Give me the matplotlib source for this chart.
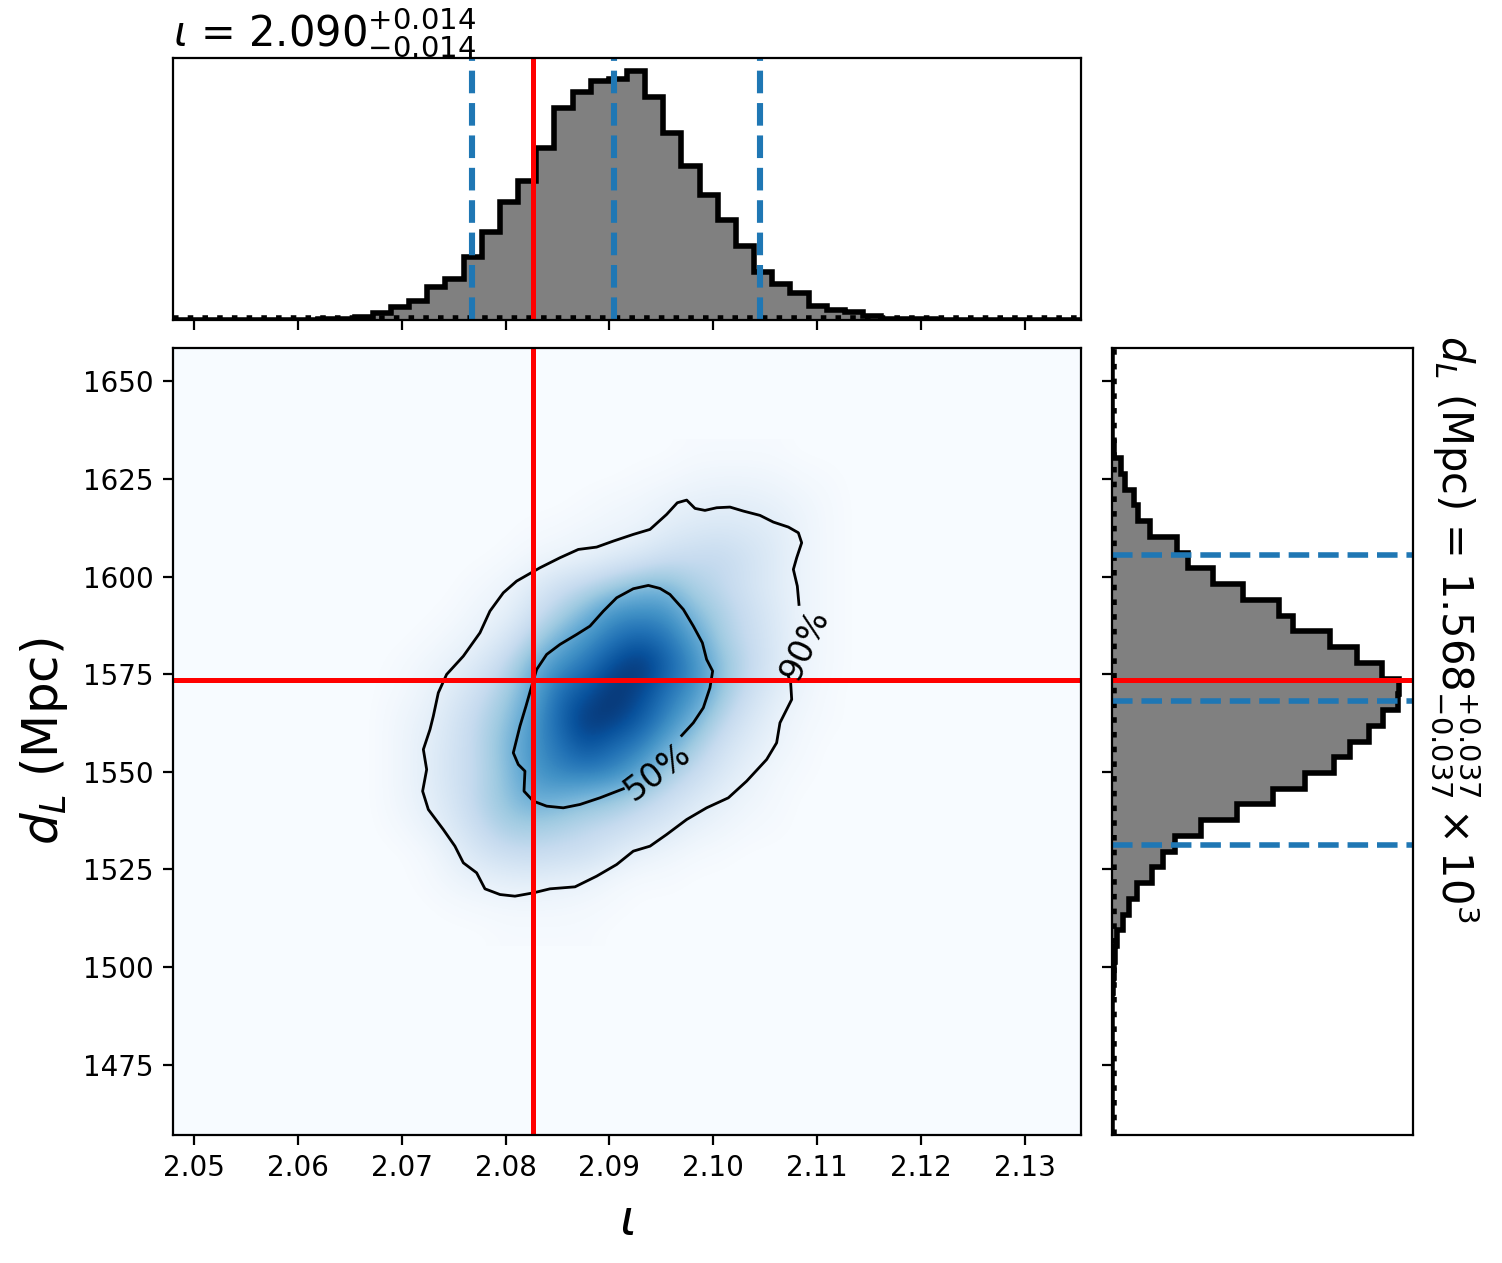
import numpy as np
import matplotlib
matplotlib.use("Agg")
import matplotlib.pyplot as plt

X_LIM = (2.04798, 2.13539)
Y_LIM = (1456.95, 1658.55)
X_TICKS = [2.05, 2.06, 2.07, 2.08, 2.09, 2.10, 2.11, 2.12, 2.13]
Y_TICKS = [1475, 1500, 1525, 1550, 1575, 1600, 1625, 1650]

TRUE_IOTA = 2.0826
TRUE_DL = 1573.5
IOTA_QUANTILES = [2.0768, 2.0904, 2.1045]
DL_QUANTILES = [1531.2, 1568.2, 1605.5]

# relative bin heights, 50 bins, low to high
iota_counts = [0, 0, 0, 0, 0, 0, 0, 0.3, 0.6, 1.2,
               3, 6.7, 12.7, 19.3, 33.3, 40.7, 62.7, 88.3, 118.3, 139.3,
               172.3, 211.7, 228.3, 239.3, 241.3, 249.3, 223.3, 187.3, 154, 125,
               100, 74, 48.3, 36, 27.3, 14, 10, 8, 4, 1.5,
               1.5, 1, 0.5, 0.3, 0.2, 0, 0, 0, 0, 0]
# relative bin heights, 50 bins, from the highest distance bin down
dl_counts = [0, 0, 0, 0, 0, 0.3, 2, 8.7, 13, 22,
             26.3, 38, 65.3, 76.3, 101.3, 130.7, 167.3, 181.3, 218, 244.7,
             269.7, 287, 285.7, 271.3, 257.3, 238, 222.3, 193, 160.7, 124.7,
             88.7, 63, 51.3, 39.7, 25.3, 17, 10.7, 4.7, 3, 2,
             0.7, 0.3, 0, 0, 0, 0, 0, 0, 0, 0]

# density cell centres and colour levels
grid_iota = [2.06726, 2.06983, 2.07240, 2.07496, 2.07753, 2.08010, 2.08267, 2.08523, 2.08780, 2.09037,
             2.09294, 2.09550, 2.09807, 2.10064, 2.10321, 2.10577, 2.10834, 2.11091, 2.11347]
grid_dl = [1631.72, 1624.89, 1618.06, 1611.22, 1604.39, 1597.56, 1590.73, 1583.89, 1577.06, 1570.23,
           1563.40, 1556.56, 1549.73, 1542.90, 1536.07, 1529.23, 1522.40, 1515.57, 1508.74]
density = [
 [0, 0, 0, 0, 0, 0, 0, 0, 0, 0, 0, 0, 1, 1, 1, 1, 0, 0, 0],
 [0, 0, 0, 0, 0, 0, 0, 0, 0, 0, 1, 2, 4, 5, 5, 4, 2, 1, 0],
 [0, 0, 0, 0, 0, 0, 0, 0, 1, 3, 4, 7, 9, 10, 10, 8, 5, 2, 0],
 [0, 0, 0, 0, 0, 0, 1, 2, 4, 5, 7, 12, 15, 17, 15, 12, 6, 2, 0],
 [0, 0, 0, 0, 0, 1, 4, 6, 8, 13, 17, 23, 25, 26, 20, 13, 6, 2, 0],
 [0, 0, 0, 0, 2, 5, 12, 21, 28, 36, 44, 45, 33, 27, 19, 12, 6, 2, 0],
 [0, 0, 0, 1, 5, 8, 20, 33, 47, 62, 64, 62, 44, 33, 23, 14, 6, 2, 0],
 [0, 0, 1, 4, 8, 16, 33, 49, 62, 74, 82, 74, 57, 36, 25, 15, 6, 2, 0],
 [0, 1, 4, 8, 15, 28, 49, 64, 74, 90, 100, 82, 65, 43, 28, 15, 6, 2, 0],
 [0, 2, 6, 13, 23, 36, 54, 77, 87, 100, 92, 74, 62, 40, 23, 12, 5, 1, 0],
 [0, 4, 8, 17, 28, 41, 60, 80, 98, 96, 84, 67, 49, 30, 17, 8, 3, 1, 0],
 [0, 4, 10, 18, 29, 45, 62, 75, 88, 78, 70, 52, 36, 21, 12, 6, 2, 0, 0],
 [0, 4, 10, 19, 28, 43, 60, 68, 70, 67, 54, 36, 25, 15, 8, 3, 1, 0, 0],
 [0, 4, 9, 17, 30, 41, 52, 49, 44, 39, 31, 23, 15, 9, 5, 2, 0, 0, 0],
 [0, 2, 7, 14, 25, 35, 36, 33, 28, 25, 19, 14, 8, 5, 2, 1, 0, 0, 0],
 [0, 0, 2, 9, 17, 23, 25, 23, 21, 14, 8, 5, 2, 1, 0, 0, 0, 0, 0],
 [0, 0, 1, 5, 8, 10, 11, 9, 7, 3, 1, 1, 0, 0, 0, 0, 0, 0, 0],
 [0, 0, 0, 1, 2, 3, 3, 3, 2, 1, 0, 0, 0, 0, 0, 0, 0, 0, 0],
 [0, 0, 0, 0, 0, 1, 1, 1, 1, 0, 0, 0, 0, 0, 0, 0, 0, 0, 0],
]

c90_iota = [2.10824, 2.10808, 2.10770, 2.10802, 2.10850, 2.10818, 2.10722, 2.10577, 2.10449, 2.10288,
            2.10160, 2.10032, 2.09919, 2.09823, 2.09743, 2.09653, 2.09550, 2.09390, 2.09229, 2.09037,
            2.08876, 2.08700, 2.08523, 2.08331, 2.08106, 2.07978, 2.07849, 2.07753, 2.07593, 2.07432,
            2.07352, 2.07304, 2.07272, 2.07208, 2.07240, 2.07201, 2.07256, 2.07400, 2.07512, 2.07593,
            2.07721, 2.07801, 2.07946, 2.08090, 2.08267, 2.08427, 2.08668, 2.08876, 2.09069, 2.09229,
            2.09390, 2.09550, 2.09743, 2.09935, 2.10144, 2.10320, 2.10513, 2.10609, 2.10641, 2.10754,
            2.10744, 2.10722]
c90_dl = [1592.86, 1597.56, 1601.83, 1604.82, 1608.66, 1611.22, 1612.68, 1613.96, 1615.67, 1616.78,
          1617.80, 1617.63, 1616.95, 1617.46, 1619.59, 1618.91, 1615.92, 1612.08, 1610.80, 1609.09,
          1607.55, 1606.95, 1604.82, 1602.26, 1598.84, 1595.85, 1591.15, 1585.60, 1579.62, 1574.93,
          1570.23, 1564.25, 1560.83, 1555.71, 1550.58, 1545.03, 1540.33, 1535.21, 1530.94, 1526.67,
          1524.11, 1520.01, 1518.55, 1518.13, 1518.98, 1520.01, 1520.52, 1523.25, 1526.24, 1529.66,
          1530.94, 1533.93, 1537.77, 1540.76, 1543.32, 1547.59, 1553.15, 1557.42, 1562.54, 1568.52,
          1572.79, 1574.50]
c50_iota = [2.09695, 2.09807, 2.09903, 2.09967, 2.09993, 2.09935, 2.09894, 2.09807, 2.09711, 2.09582,
            2.09486, 2.09374, 2.09229, 2.09069, 2.08941, 2.08812, 2.08684, 2.08523, 2.08395, 2.08299,
            2.08251, 2.08196, 2.08138, 2.08074, 2.08122, 2.08186, 2.08177, 2.08267, 2.08395, 2.08555,
            2.08716, 2.08908, 2.09133]
c50_dl = [1559.29, 1562.54, 1566.38, 1571.51, 1575.78, 1578.77, 1583.04, 1587.31, 1591.58, 1595.42,
          1596.96, 1597.73, 1596.88, 1594.57, 1591.15, 1587.31, 1585.17, 1582.61, 1580.05, 1576.21,
          1571.94, 1566.81, 1561.69, 1554.85, 1551.86, 1550.16, 1545.03, 1542.47, 1541.19, 1540.76,
          1541.62, 1543.32, 1545.63]

W, H = 1502, 1263
fig = plt.figure(figsize=(W / 200, H / 200), dpi=200)

def box(x0, y0, x1, y1):
    return [x0 / W, 1 - y1 / H, (x1 - x0) / W, (y1 - y0) / H]

ax = fig.add_axes(box(173, 348, 1081, 1135))
ax_top = fig.add_axes(box(173, 58, 1081, 320))
ax_right = fig.add_axes(box(1112, 348, 1413, 1135))

cmap = plt.get_cmap("Blues")
ax.set_facecolor(cmap(0.0))
dx = (grid_iota[1] - grid_iota[0]) / 2
dy = (grid_dl[0] - grid_dl[1]) / 2
ax.imshow(np.array(density) / 100.0, cmap=cmap, vmin=0, vmax=1, origin="upper", aspect="auto",
          interpolation="bicubic",
          extent=(grid_iota[0] - dx, grid_iota[-1] + dx, grid_dl[-1] - dy, grid_dl[0] + dy))
ax.plot(c90_iota, c90_dl, color="k", lw=1.0)
ax.plot(c50_iota, c50_dl, color="k", lw=1.0)
ax.text(2.10880, 1582.6, "90%", fontsize=12, rotation=65, ha="center", va="center", rotation_mode="anchor")
ax.text(2.09465, 1549.8, "50%", fontsize=12, rotation=37, ha="center", va="center", rotation_mode="anchor")
ax.axvline(TRUE_IOTA, color="red", lw=1.8)
ax.axhline(TRUE_DL, color="red", lw=1.8)
ax.set_xlim(X_LIM)
ax.set_ylim(Y_LIM)
ax.set_xticks(X_TICKS)
ax.set_xticklabels([f"{t:.2f}" for t in X_TICKS])
ax.set_yticks(Y_TICKS)
ax.tick_params(labelsize=10)
ax.set_xlabel(r"$\iota$", fontsize=18, labelpad=5.3)
ax.set_ylabel(r"$d_L$ (Mpc)", fontsize=18, labelpad=4.5)

x_edges = np.linspace(X_LIM[0], X_LIM[1], len(iota_counts) + 1)
ax_top.stairs(iota_counts, x_edges, fill=True, color="gray")
ax_top.stairs(iota_counts, x_edges, color="k", lw=2)
ax_top.axhline(2.2, color="k", ls=":", lw=2)
for q in IOTA_QUANTILES:
    ax_top.axvline(q, color="tab:blue", ls="--", lw=2.2)
ax_top.axvline(TRUE_IOTA, color="red", lw=1.8)
ax_top.set_xlim(X_LIM)
ax_top.set_ylim(0, 262)
ax_top.set_xticks(X_TICKS)
ax_top.set_xticklabels([])
ax_top.set_yticks([])

y_edges = np.linspace(Y_LIM[0], Y_LIM[1], len(dl_counts) + 1)
ax_right.stairs(dl_counts[::-1], y_edges, fill=True, color="gray", orientation="horizontal")
ax_right.stairs(dl_counts[::-1], y_edges, color="k", lw=2, orientation="horizontal")
ax_right.axvline(2.2, color="k", ls=":", lw=2)
for q in DL_QUANTILES:
    ax_right.axhline(q, color="tab:blue", ls="--", lw=2)
ax_right.axhline(TRUE_DL, color="red", lw=1.8)
ax_right.set_xlim(0, 301)
ax_right.set_ylim(Y_LIM)
ax_right.set_xticks([])
ax_right.set_yticks(Y_TICKS)
ax_right.set_yticklabels([])

fig.text(173 / W, 1 - 47 / H, r"$\iota$ = 2.090$^{+0.014}_{-0.014}$", fontsize=15,
         ha="left", va="baseline", zorder=-1)
fig.text(1455 / W, 1 - 335 / H, r"$d_L$ (Mpc) = 1.568$^{+0.037}_{-0.037}\times10^{3}$", fontsize=15,
         rotation=270, ha="center", va="top")

fig.savefig("out.png", dpi=200)
